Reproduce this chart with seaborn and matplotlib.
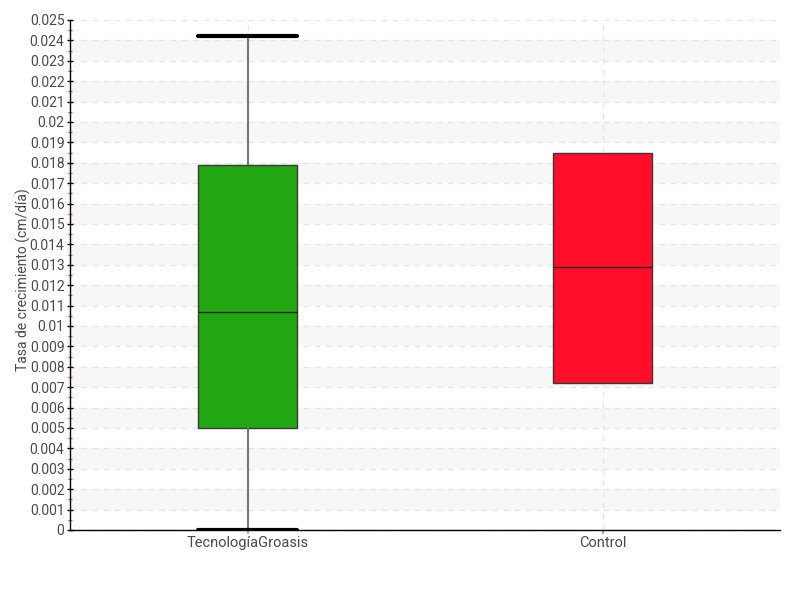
import numpy as np
import pandas as pd
import seaborn as sns
import matplotlib.pyplot as plt
from matplotlib.ticker import FixedLocator, MultipleLocator

sns.set_theme(style="white")
plt.rcParams["font.family"] = ["Roboto", "DejaVu Sans"]

# five-number summaries (min, q1, median, q3, max)
categories = ["TecnologíaGroasis", "Control"]
groasis = [0.0, 0.005, 0.0107, 0.0179, 0.0242]
control = [0.0072, 0.0072, 0.0129, 0.0185, 0.0185]
colors = ["#22a612", "#ff0d29"]
y_ticks = [round(i * 0.001, 3) for i in range(26)]
y_labels = ["0"] + [f"{v:g}" for v in y_ticks[1:]]

data = pd.DataFrame({
    "grupo": [categories[0]] * len(groasis) + [categories[1]] * len(control),
    "tasa": groasis + control,
})

fig, ax = plt.subplots(figsize=(8, 6), dpi=100)
fig.subplots_adjust(left=0.0875, right=0.975, bottom=0.1167, top=0.9667)

# alternating bands
for lo in y_ticks[1:-1:2]:
    ax.axhspan(lo, lo + 0.001, color="#f7f7f7", zorder=0, lw=0)

sns.boxplot(
    data=data, x="grupo", y="tasa", hue="grupo", palette=colors, saturation=1,
    width=0.28, whis=1.5, showfliers=False, legend=False, ax=ax,
    boxprops=dict(edgecolor="#3a3a3a", linewidth=1, alpha=1),
    medianprops=dict(color="#222222", linewidth=1),
    whiskerprops=dict(color="#777777", linewidth=1.5),
    capprops=dict(color="black", linewidth=3),
)
# control box shows no whiskers or caps; groasis caps span the box
cont = ax.containers[1]
for ln in list(cont.caps) + list(cont.whiskers):
    ln.set_visible(False)
for cap in ax.containers[0].caps:
    x0, x1 = cap.get_xdata()
    mid = (x0 + x1) / 2
    cap.set_xdata([mid - 0.14, mid + 0.14])

ax.set_xlim(-0.5, 1.5)
ax.set_ylim(0, 0.025)
ax.yaxis.set_major_locator(FixedLocator(y_ticks))
ax.set_yticklabels(y_labels)
ax.yaxis.set_minor_locator(MultipleLocator(0.0005))
ax.tick_params(axis="y", which="major", left=True, length=4, width=1,
               color="black", direction="inout", labelsize=10, labelcolor="#4a4a4a", pad=2)
ax.tick_params(axis="y", which="minor", left=True, length=3, width=1,
               color="#ff4444", direction="inout")
ax.tick_params(axis="x", bottom=True, length=3, color="#999999",
               labelsize=10.5, labelcolor="#4a4a4a", pad=1)

ax.grid(True, axis="both", which="major", linestyle=(0, (4, 4)),
        color="#e6e6e6", linewidth=1, zorder=1)
ax.set_axisbelow(True)

for s in ["top", "right"]:
    ax.spines[s].set_visible(False)
for s in ["left", "bottom"]:
    ax.spines[s].set_color("black")
    ax.spines[s].set_linewidth(1)

ax.set_xlabel(None)
ax.set_ylabel("Tasa de crecimiento (cm/día)", fontsize=10, color="#4a4a4a")
ax.yaxis.set_label_coords(-0.055, 0.49)

plt.savefig("out.png", dpi=100)
